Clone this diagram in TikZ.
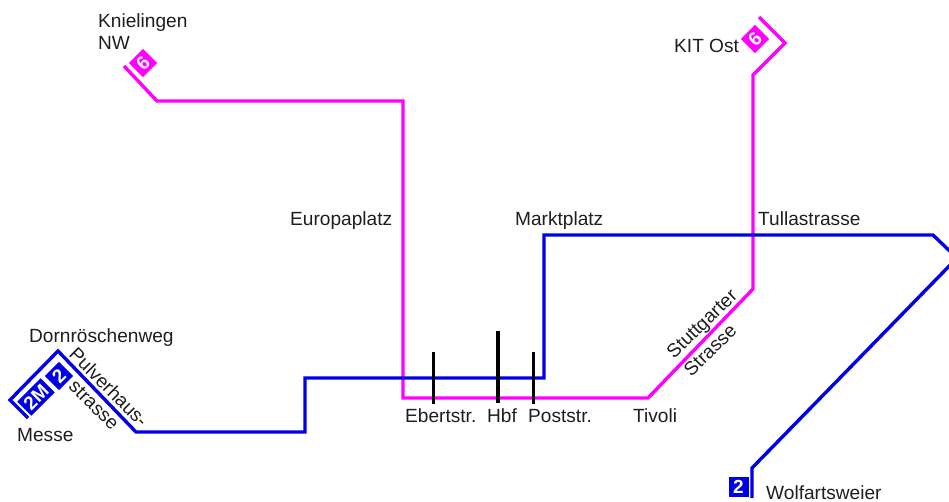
\documentclass[tikz,border=0pt]{standalone}
\usepackage{fontspec}
\setmainfont{Liberation Sans}
\definecolor{linesix}{RGB}{255,0,255}
\definecolor{linetwo}{RGB}{0,0,230}
\definecolor{labelink}{RGB}{30,30,30}
\tikzset{
  stoplabel/.style={inner sep=0pt,text=labelink,font=\fontsize{19.1}{22}\selectfont},
  sixline/.style={draw=linesix,line width=3.4pt,line join=miter},
  twoline/.style={draw=linetwo,line width=3.4pt,line join=miter},
  stopbar/.style={draw=black,line width=3.2pt},
  sixtile/.style={fill=linesix,text=white,inner sep=0pt,minimum size=20pt,font=\fontsize{19}{19}\selectfont\bfseries},
  twotile/.style={fill=linetwo,text=white,inner sep=0pt,minimum height=20pt,font=\fontsize{19}{19}\selectfont\bfseries}
}
\begin{document}
\begin{tikzpicture}[x=1pt,y=-1pt]
    \useasboundingbox (0,0) rectangle (949,501);
    \clip (0,0) rectangle (949,501);

    % Line 6
    % Vertices
    \coordinate (k0) at (124,66);
    \coordinate (k1) at (157,101);
    \coordinate (k2) at (403,101);
    \coordinate (k3) at (403,398);
    \coordinate (k4) at (648,398);
    \coordinate (k5) at (753,289);
    \coordinate (k6) at (753,75);
    \coordinate (k7) at (785,43);
    \coordinate (k8) at (759,17);

    % Edges
    \draw[sixline] (k0) -- (k1) -- (k2) -- (k3) -- (k4) -- (k5) -- (k6) -- (k7) -- (k8);

    % Line 2
    % Vertices
    \coordinate (m0) at (28,418);
    \coordinate (m1) at (10,400);
    \coordinate (m2) at (58,351);
    \coordinate (m3) at (136,432);
    \coordinate (m4) at (305,432);
    \coordinate (m5) at (305,378);
    \coordinate (m6) at (544,378);
    \coordinate (m7) at (544,235);
    \coordinate (m8) at (933,235);
    \coordinate (m9) at (957,258);
    \coordinate (m10) at (752,468);
    \coordinate (m11) at (752,498);

    % Edges
    \draw[twoline] (m0) -- (m1) -- (m2) -- (m3) -- (m4) -- (m5) -- (m6) -- (m7) -- (m8) -- (m9) -- (m10) -- (m11);

    % Stop bars
    \coordinate (e0) at (433.5,352);
    \coordinate (e1) at (433.5,404);
    \coordinate (h0) at (498,331);
    \coordinate (h1) at (498,403);
    \coordinate (p0) at (533.5,352);
    \coordinate (p1) at (533.5,404);
    \draw[stopbar] (e0) -- (e1);
    \draw[stopbar] (h0) -- (h1);
    \draw[stopbar] (p0) -- (p1);

    % Tiles
    \node[sixtile,rotate=45] (six1) at (143,63) {6};
    \node[sixtile,rotate=45] (six2) at (755,39) {6};
    \node[twotile,minimum width=20pt,rotate=45] (two1) at (59,376) {2};
    \node[twotile,minimum width=33pt,rotate=45] (two2) at (36,397) {2M};
    \node[twotile,minimum width=20pt] (two3) at (738.5,487) {2};

    % Labels
    \node[stoplabel,anchor=base west,align=left] (knie) at (98,49) {Knielingen\\NW};
    \node[stoplabel,anchor=base west] (kit) at (674,52) {KIT Ost};
    \node[stoplabel,anchor=base west] (euro) at (290,225) {Europaplatz};
    \node[stoplabel,anchor=base west] (markt) at (515,225) {Marktplatz};
    \node[stoplabel,anchor=base west] (tulla) at (758,225) {Tullastrasse};
    \node[stoplabel,anchor=base west] (dorn) at (29,342) {Dornröschenweg};
    \node[stoplabel,anchor=base west] (messe) at (17,441) {Messe};
    \node[stoplabel,anchor=base west] (ebert) at (405,422) {Ebertstr.};
    \node[stoplabel,anchor=base west] (hbf) at (487,422) {Hbf};
    \node[stoplabel,anchor=base west] (post) at (528,422) {Poststr.};
    \node[stoplabel,anchor=base west] (tivoli) at (633,422) {Tivoli};
    \node[stoplabel,anchor=base west] (wolf) at (766,499.5) {Wolfartsweier};
    \node[stoplabel,rotate=-45] (pulv) at (109,387) {Pulverhaus-};
    \node[stoplabel,rotate=-45] (stra1) at (94,405) {strasse};
    \node[stoplabel,rotate=44] (stutt) at (703,325) {Stuttgarter};
    \node[stoplabel,rotate=44] (stra2) at (710,350) {Strasse};
\end{tikzpicture}
\end{document}
